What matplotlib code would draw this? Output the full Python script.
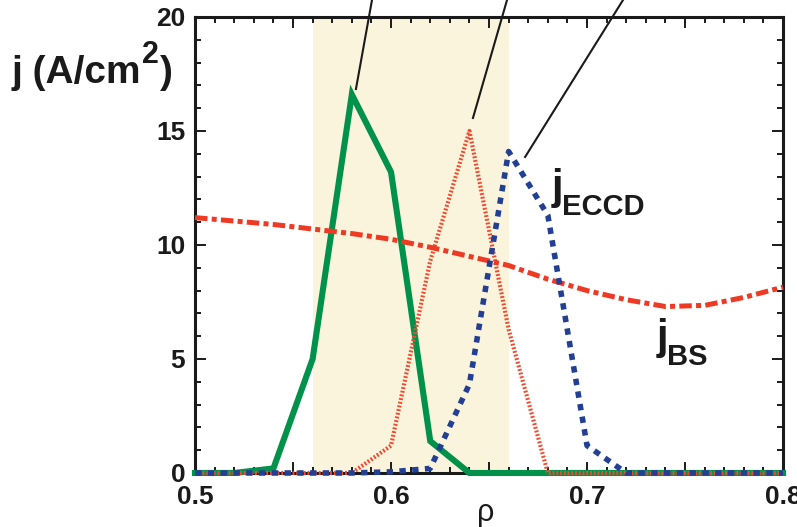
import matplotlib
matplotlib.use("Agg")
import matplotlib.pyplot as plt
from matplotlib import font_manager
from matplotlib.ticker import MultipleLocator, FuncFormatter

names = {f.name for f in font_manager.fontManager.ttflist}
FONT = "Liberation Sans Narrow" if "Liberation Sans Narrow" in names else "Liberation Sans"
plt.rcParams["font.family"] = [FONT, "DejaVu Sans"]

# radius grid
rho = [0.50, 0.52, 0.54, 0.56, 0.58, 0.60, 0.62, 0.64,
       0.66, 0.68, 0.70, 0.72, 0.74, 0.76, 0.78, 0.80]

# current densities (A/cm^2)
j_green = [0, 0, 0.2, 5.0, 16.6, 13.2, 1.4, 0, 0, 0, 0, 0, 0, 0, 0, 0]
j_red_dot = [0, 0, 0, 0, 0, 1.2, 9.3, 15.0, 6.3, 0, 0, 0, 0, 0, 0, 0]
j_eccd = [0, 0, 0, 0, 0, 0.05, 0.2, 3.9, 14.1, 11.3, 1.2, 0, 0, 0, 0, 0]
j_bs = [11.2, 11.05, 10.9, 10.7, 10.5, 10.25, 9.9, 9.5,
        9.1, 8.5, 8.0, 7.6, 7.3, 7.35, 7.7, 8.15]

band = (0.56, 0.66)

# pointer lines to the peaks (start, end)
pointers = [((0.5821, 16.84), (0.5903, 20.75)),
            ((0.6418, 15.57), (0.6592, 20.75)),
            ((0.6684, 13.86), (0.7184, 20.75))]

fig = plt.figure(figsize=(7.97, 5.27), dpi=100)
ax = fig.add_axes([0.2447, 0.1025, 0.7378, 0.8653])

ax.axvspan(band[0], band[1], color="#fbf4dc", lw=0, zorder=0)

ax.plot(rho, j_green, color="#00924b", lw=4.4, zorder=3, clip_on=False,
        solid_joinstyle="miter")
ax.plot(rho, j_red_dot, color="#ef4b2f", lw=3.0, dashes=(0.45, 0.45),
        zorder=4, clip_on=False)
ax.plot(rho, j_bs, color="#ee3a24", lw=3.6, dashes=(2.5, 0.85, 1.0, 0.85),
        zorder=5, clip_on=False)
ax.plot(rho, j_eccd, color="#223f94", lw=4.0, dashes=(1.15, 1.15),
        zorder=6, clip_on=False)

for (x0, y0), (x1, y1) in pointers:
    ax.plot([x0, x1], [y0, y1], color="#1a1a1a", lw=1.5, clip_on=False, zorder=7)

ax.set_xlim(0.5, 0.8)
ax.set_ylim(0, 20)

ax.xaxis.set_major_locator(MultipleLocator(0.05))
ax.xaxis.set_minor_locator(MultipleLocator(0.01))
ax.yaxis.set_major_locator(MultipleLocator(5))
ax.yaxis.set_minor_locator(MultipleLocator(1))


def xfmt(v, pos):
    k = int(round(v * 100))
    return f"{v:.1f}" if k % 10 == 0 else ""


ax.xaxis.set_major_formatter(FuncFormatter(xfmt))
ax.yaxis.set_major_formatter(FuncFormatter(lambda v, p: f"{int(round(v))}"))

ax.tick_params(which="both", direction="in", top=True, right=True,
               width=1.4, colors="#1a1a1a")
ax.tick_params(which="major", length=8)
ax.tick_params(which="minor", length=4.5)
ax.tick_params(axis="x", which="major", pad=9)
ax.tick_params(axis="y", which="major", pad=7)
for lab in ax.get_xticklabels() + ax.get_yticklabels():
    lab.set_fontsize(19)
    lab.set_fontweight("bold")
    lab.set_color("#1a1a1a")

for sp in ax.spines.values():
    sp.set_linewidth(2.2)
    sp.set_color("#1a1a1a")

# labels
W, H = 797.0, 527.0
def fx(px):
    return px / W
def fy(py):
    return 1 - py / H

tc = "#1a1a1a"
t1 = fig.text(fx(12), fy(83), "j (A/cm", fontsize=28, fontweight="bold",
              ha="left", va="baseline", color=tc)
t2 = fig.text(0, 0, "2", fontsize=22, fontweight="bold", color=tc)
t2.set_visible(False)
sup = ax.annotate("2", xy=(1, 0), xycoords=t1, xytext=(0.5, 15),
                  textcoords="offset points", fontsize=22, fontweight="bold",
                  ha="left", va="bottom", color=tc, annotation_clip=False)
ax.annotate(")", xy=(1, 0), xycoords=(sup, t1), xytext=(0.5, 0),
            textcoords="offset points", fontsize=28, fontweight="bold",
            ha="left", va="bottom", color=tc, annotation_clip=False)

ax.text(0.6821, 12.02, "j", fontsize=30, fontweight="bold", color=tc,
        ha="left", va="baseline")
ax.text(0.6872, 11.32, "ECCD", fontsize=21, fontweight="bold", color=tc,
        ha="left", va="baseline")
ax.text(0.7357, 5.44, "j", fontsize=30, fontweight="bold", color=tc,
        ha="left", va="baseline")
ax.text(0.7408, 4.74, "BS", fontsize=21, fontweight="bold", color=tc,
        ha="left", va="baseline")

fig.text(fx(486), fy(521), "ρ", fontsize=22, ha="center", va="baseline",
         color=tc, family=["Liberation Sans", "DejaVu Sans"])

fig.savefig("out.png", dpi=100)
